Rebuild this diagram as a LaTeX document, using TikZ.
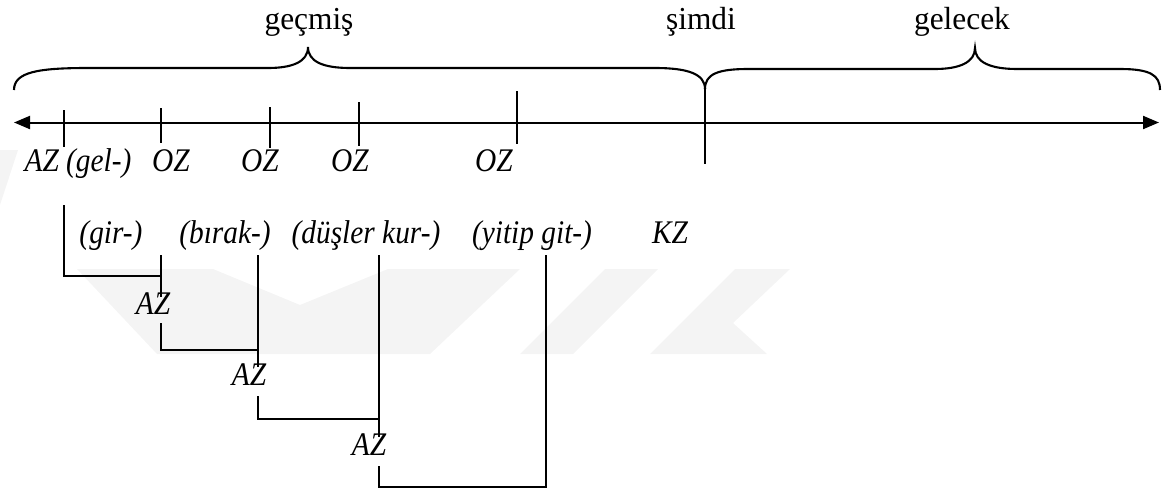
\documentclass[tikz,border=0pt]{standalone}
\usepackage{fontspec}
\setmainfont{Liberation Serif}[FakeStretch=0.98]
\newfontfamily\lblitfont{Liberation Serif}[FakeStretch=0.89]
\usetikzlibrary{arrows.meta}
\begin{document}
\begin{tikzpicture}[x=1pt,y=-1pt,
  line/.style={line width=2pt, line cap=butt, line join=miter},
  brace/.style={line width=2.1pt},
  lbl/.style={inner sep=0pt, anchor=base, font=\fontsize{32}{38}\selectfont},
  ilbl/.style={inner sep=0pt, anchor=base, font=\fontsize{33}{39}\lblitfont\itshape},
  logoshape/.style={fill=black!4.5, draw=none}]
\useasboundingbox (0,0) rectangle (1167,493);

% faint background logo
\fill[logoshape] (77,269) -- (213,269) -- (300,305) -- (388,269) -- (520,269) -- (430,354) -- (157,354) -- cycle;
\fill[logoshape] (605,269) -- (658,269) -- (573,354) -- (520,354) -- cycle;
\fill[logoshape] (735,269) -- (790,269) -- (733,323) -- (767,354) -- (650,354) -- cycle;
\fill[logoshape] (0,150) -- (18,150) -- (0,205) -- cycle;

% braces over the time line
\coordinate (b0) at (14,90);
\coordinate (btip1) at (308,47);
\coordinate (bmid) at (705,89);
\coordinate (btip2) at (975,48);
\coordinate (b3) at (1160,90);
\draw[brace] (b0) .. controls (14,72) and (38,68) .. (88,68) -- (268,68)
  .. controls (292,68) and (308,62) .. (btip1)
  .. controls (308,62) and (324,68) .. (350,68) -- (655,68)
  .. controls (688,68) and (705,74) .. (bmid);
\draw[brace] (bmid) .. controls (705,74) and (718,69) .. (748,69) -- (935,69)
  .. controls (960,69) and (975,62) .. (btip2)
  .. controls (975,62) and (990,69) .. (1017,69) -- (1120,69)
  .. controls (1150,69) and (1160,75) .. (b3);

% time axis
\coordinate (axL) at (14,122.5);
\coordinate (axR) at (1159,122.5);
\draw[line, {Triangle[length=16pt,width=13pt]}-{Triangle[length=16pt,width=13pt]}] (axL) -- (axR);

% ticks on the axis
\coordinate (t0a) at (64,110);  \coordinate (t0b) at (64,147);
\coordinate (t1a) at (161,108); \coordinate (t1b) at (161,143);
\coordinate (t2a) at (270,107); \coordinate (t2b) at (270,148);
\coordinate (t3a) at (359,102); \coordinate (t3b) at (359,146);
\coordinate (t4a) at (517,91);  \coordinate (t4b) at (517,144);
\coordinate (now) at (705,164);
\draw[line] (t0a) -- (t0b);
\draw[line] (t1a) -- (t1b);
\draw[line] (t2a) -- (t2b);
\draw[line] (t3a) -- (t3b);
\draw[line] (t4a) -- (t4b);
\draw[line] (bmid) -- (now);

% labels above
\node[lbl] (past) at (309,29) {geçmiş};
\node[lbl] (present) at (701,29) {şimdi};
\node[lbl] (future) at (962,29) {gelecek};

% labels under the axis
\node[ilbl] (az0) at (78,171) {AZ (gel-)};
\node[ilbl] (oz1) at (171,171) {OZ};
\node[ilbl] (oz2) at (260,171) {OZ};
\node[ilbl] (oz3) at (350,171) {OZ};
\node[ilbl] (oz4) at (494,171) {OZ};

% verbs of the chain
\node[ilbl] (gir) at (111,243) {(gir-)};
\node[ilbl] (birak) at (225,243) {(bırak-)};
\node[ilbl] (dusler) at (366,243) {(düşler kur-)};
\node[ilbl] (yitip) at (532,243) {(yitip git-)};
\node[ilbl] (kz) at (670,243) {KZ};

% intermediate AZ labels
\node[ilbl] (az1) at (153,314) {AZ};
\node[ilbl] (az2) at (249,385) {AZ};
\node[ilbl] (az3) at (369,455) {AZ};

% chain connectors
\coordinate (c0) at (64,205);
\coordinate (j1) at (161,276);
\coordinate (g1) at (161,255);
\coordinate (a1t) at (161,297);
\coordinate (a1b) at (161,323);
\coordinate (j2) at (258,350);
\coordinate (g2) at (258,255);
\coordinate (a2t) at (258,367);
\coordinate (a2b) at (258,396);
\coordinate (j3) at (379,419);
\coordinate (g3) at (379,255);
\coordinate (a3t) at (379,437);
\coordinate (a3b) at (379,466);
\coordinate (j4) at (546,487);
\coordinate (g4) at (546,255);

\draw[line] (c0) |- (j1);
\draw[line] (g1) -- (a1t);
\draw[line] (a1b) |- (j2);
\draw[line] (g2) -- (a2t);
\draw[line] (a2b) |- (j3);
\draw[line] (g3) -- (a3t);
\draw[line] (a3b) |- (j4) -- (g4);
\end{tikzpicture}
\end{document}
